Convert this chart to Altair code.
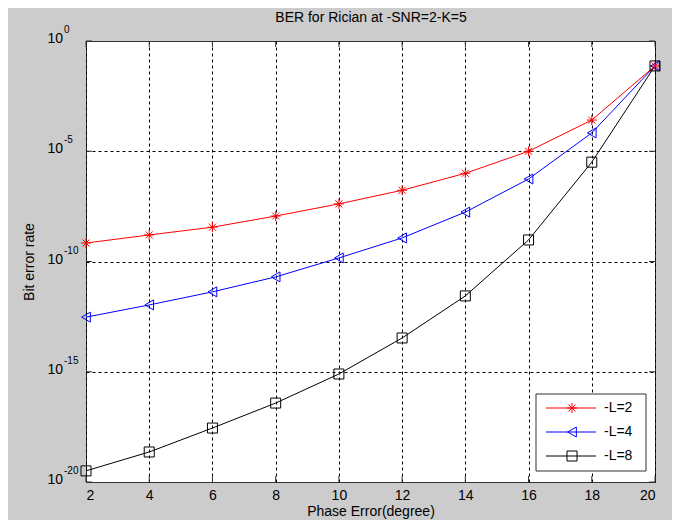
import altair as alt
import pandas as pd

# ---- data ----
phase = [2, 4, 6, 8, 10, 12, 14, 16, 18, 20]
ber_l2 = [6.9e-10, 1.6e-9, 3.6e-9, 1.15e-8, 4.1e-8, 1.7e-7, 1.0e-6, 1.0e-5, 2.6e-4, 7.4e-2]
ber_l4 = [3.0e-13, 1.07e-12, 4.2e-12, 2.0e-11, 1.45e-10, 1.17e-9, 1.74e-8, 5.5e-7, 6.8e-5, 7.4e-2]
ber_l8 = [3.2e-20, 2.3e-19, 2.8e-18, 3.8e-17, 7.9e-16, 3.4e-14, 2.75e-12, 9.5e-10, 3.2e-6, 7.4e-2]
series = ["-L=2", "-L=4", "-L=8"]
xticks = [2, 4, 6, 8, 10, 12, 14, 16, 18, 20]
ytick_exp = [0, -5, -10, -15, -20]
ytick_val = [1.0, 1e-5, 1e-10, 1e-15, 1e-20]
title_text = "BER for Rician at -SNR=2-K=5"

colors = ["#ff0000", "#0000ff", "#000000"]
STAR = "M-1,0L1,0M0,-1L0,1M-0.7,-0.7L0.7,0.7M-0.7,0.7L0.7,-0.7"
shapes = [STAR, "triangle-left", "square"]
FONT = "Liberation Sans"

rows = []
for s, vals in zip(series, [ber_l2, ber_l4, ber_l8]):
    for p, v in zip(phase, vals):
        rows.append({"phase": p, "ber": v, "series": s})
df = pd.DataFrame(rows)

xscale = alt.Scale(domain=[2, 20], nice=False, zero=False)
yscale = alt.Scale(type="log", domain=[1e-20, 1], nice=False)

x = alt.X("phase:Q", scale=xscale,
          axis=alt.Axis(values=xticks, format="d", title="Phase Error(degree)",
                        grid=True, gridDash=[3, 3], gridColor="black", gridOpacity=1,
                        gridWidth=1, ticks=False, domain=False,
                        labelFontSize=14, titleFontSize=14, titleFontWeight="normal",
                        labelColor="black", titleColor="black", labelPadding=6,
                        titlePadding=2, labelFont=FONT, titleFont=FONT))
y = alt.Y("ber:Q", scale=yscale,
          axis=alt.Axis(values=[1e-5, 1e-10, 1e-15], labels=False, ticks=False,
                        domain=False, grid=True, gridDash=[3, 3], gridColor="black",
                        gridOpacity=1, gridWidth=1, title="Bit error rate",
                        titleFontSize=14, titleFontWeight="normal", titleColor="black",
                        titleFont=FONT, titlePadding=50))
color = alt.Color("series:N", scale=alt.Scale(domain=series, range=colors), legend=None)
shape = alt.Shape("series:N", scale=alt.Scale(domain=series, range=shapes), legend=None)

# inward MATLAB-style ticks
xt = pd.DataFrame({"t": xticks})
yt = pd.DataFrame({"v": ytick_val})
xtick_bot = alt.Chart(xt).mark_rule(color="#333333", strokeWidth=1).encode(
    x=alt.X("t:Q", scale=xscale), y=alt.value(441), y2=alt.value(435))
xtick_top = alt.Chart(xt).mark_rule(color="#333333", strokeWidth=1).encode(
    x=alt.X("t:Q", scale=xscale), y=alt.value(0), y2=alt.value(6))
ytick_l = alt.Chart(yt).mark_rule(color="#333333", strokeWidth=1).encode(
    y=alt.Y("v:Q", scale=yscale), x=alt.value(0), x2=alt.value(6))
ytick_r = alt.Chart(yt).mark_rule(color="#333333", strokeWidth=1).encode(
    y=alt.Y("v:Q", scale=yscale), x=alt.value(563), x2=alt.value(569))

lines = alt.Chart(df).mark_line(strokeWidth=1).encode(x=x, y=y, color=color, detail="series:N")
points = alt.Chart(df).mark_point(size=100, filled=False, strokeWidth=1, opacity=1).encode(
    x=alt.X("phase:Q", scale=xscale), y=alt.Y("ber:Q", scale=yscale), color=color, shape=shape)

# y tick labels as 10 with superscript exponent
ydf = pd.DataFrame({"v": ytick_val, "exp": [str(e) for e in ytick_exp]})
ten = alt.Chart(ydf).mark_text(align="right", baseline="middle", fontSize=14, font=FONT,
                               color="black", dy=-2, clip=False).encode(
    x=alt.value(-23), y=alt.Y("v:Q", scale=yscale), text=alt.value("10"))
expo = alt.Chart(ydf).mark_text(align="left", baseline="middle", fontSize=10, font=FONT,
                                color="black", dy=-11, clip=False).encode(
    x=alt.value(-22), y=alt.Y("v:Q", scale=yscale), text="exp:N")

one = alt.Data(values=[{}])
title = alt.Chart(one).mark_text(align="center", baseline="middle", fontSize=14, font=FONT,
                                 color="black").encode(
    x=alt.value(285), y=alt.value(-23), text=alt.value(title_text))

# legend box (manual, MATLAB style)
box = alt.Chart(one).mark_rect(fill="white", stroke="#333333", strokeWidth=1).encode(
    x=alt.value(450), x2=alt.value(560), y=alt.value(353), y2=alt.value(430))
legend_layers = [box]
row_y = [367, 391, 415]
for s, c, sh, ry in zip(series, colors, shapes, row_y):
    legend_layers.append(alt.Chart(one).mark_rule(color=c, strokeWidth=1).encode(
        x=alt.value(460), x2=alt.value(510), y=alt.value(ry)))
    legend_layers.append(alt.Chart(one).mark_point(shape=sh, size=100, filled=False,
                                                   color=c, strokeWidth=1, opacity=1).encode(
        x=alt.value(486), y=alt.value(ry)))
    legend_layers.append(alt.Chart(one).mark_text(align="left", baseline="middle", fontSize=14,
                                                  font=FONT, color="black").encode(
        x=alt.value(518), y=alt.value(ry), text=alt.value(s)))

chart = alt.layer(lines, xtick_bot, xtick_top, ytick_l, ytick_r, points, ten, expo, title,
                  *legend_layers).properties(
    width=569, height=441,
    autosize=alt.AutoSizeParams(type="none"),
    padding={"left": 78, "top": 33, "right": 17, "bottom": 38},
).configure(background="#cccccc").configure_view(fill="white", stroke="#333333", strokeWidth=1)

chart.save("out.html", embed_options={"renderer": "svg", "actions": False})
